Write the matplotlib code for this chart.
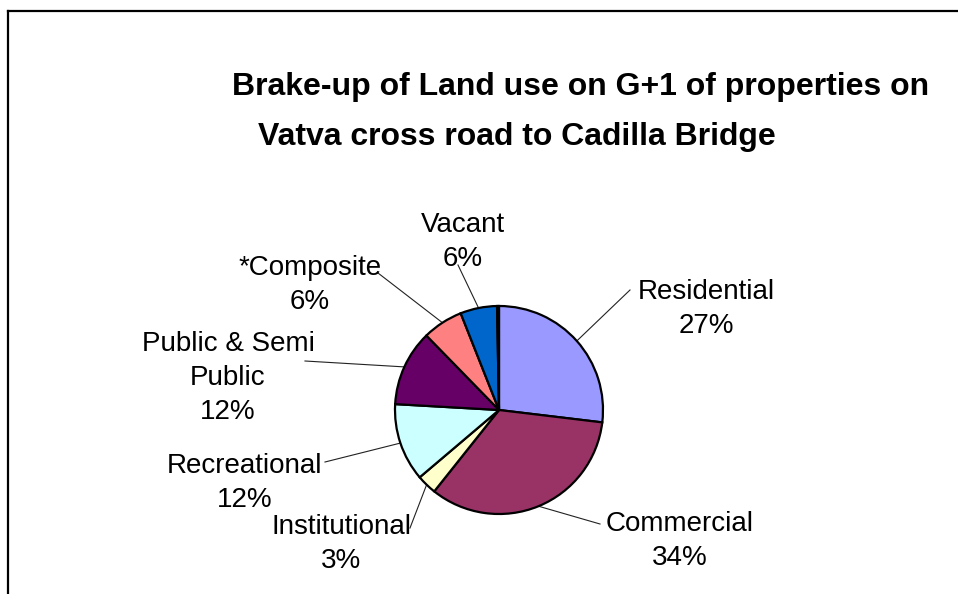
import matplotlib.pyplot as plt
import numpy as np
from matplotlib.lines import Line2D

plt.rcParams['font.family'] = ['Liberation Sans', 'DejaVu Sans']

# land use shares (%), clockwise from 12 o'clock
categories = ['Residential', 'Commercial', 'Institutional', 'Recreational',
              'Public & Semi\nPublic', '*Composite', 'Vacant', '']
shares = [26.9, 33.8, 3.1, 12.1, 11.8, 6.3, 5.7, 0.3]
pct_labels = ['27%', '34%', '3%', '12%', '12%', '6%', '6%', '']
colors = ['#9999FF', '#993366', '#FFFFCC', '#CCFFFF', '#660066',
          '#FF8080', '#0066CC', '#CCCCFF']

W, H = 958, 594
fig = plt.figure(figsize=(W / 100, H / 100), dpi=100)

# outer frame (left and top edges only visible)
fig.add_artist(Line2D([8 / W, 8 / W], [0, 1 - 11 / H], color='black', lw=1.6,
                      transform=fig.transFigure))
fig.add_artist(Line2D([8 / W, 1], [1 - 11 / H, 1 - 11 / H], color='black', lw=1.6,
                      transform=fig.transFigure))

fig.text(581 / W, 1 - 87 / H, 'Brake-up of Land use on G+1 of properties on',
         ha='center', va='center', fontsize=23, fontweight='bold')
fig.text(517 / W, 1 - 137 / H, 'Vatva cross road to Cadilla Bridge',
         ha='center', va='center', fontsize=23, fontweight='bold')

cx, cy, r = 499, 410, 104
ax = fig.add_axes([(cx - r) / W, (H - cy - r) / H, 2 * r / W, 2 * r / H])
wedges, _ = ax.pie(shares, colors=colors, startangle=90, counterclock=False,
                   radius=1, wedgeprops=dict(edgecolor='black', linewidth=1.6))
ax.set_xlim(-1, 1)
ax.set_ylim(-1, 1)
ax.set_aspect('equal')
ax.axis('off')

# label centres and leader-line ends, in pixels
text_pos = [(706, 309), (680, 541), (341, 544), (245, 483),
            (228, 378), (310, 285), (463, 242)]
line_end = [(630, 290), (600, 524), (410, 528), (325, 462),
            (305, 361), (378, 273), (458, 265)]


def to_data(p):
    return ((p[0] - cx) / r, (cy - p[1]) / r)


for i in range(7):
    w = wedges[i]
    th = np.deg2rad((w.theta1 + w.theta2) / 2)
    ex, ey = to_data(line_end[i])
    ax.plot([np.cos(th), ex], [np.sin(th), ey], color='#222222', lw=0.8,
            clip_on=False, zorder=0)
    tx, ty = to_data(text_pos[i])
    ax.text(tx, ty, categories[i] + '\n' + pct_labels[i], ha='center', va='center',
            multialignment='center', fontsize=20, linespacing=1.42, clip_on=False)

fig.savefig('out.png', dpi=100)
